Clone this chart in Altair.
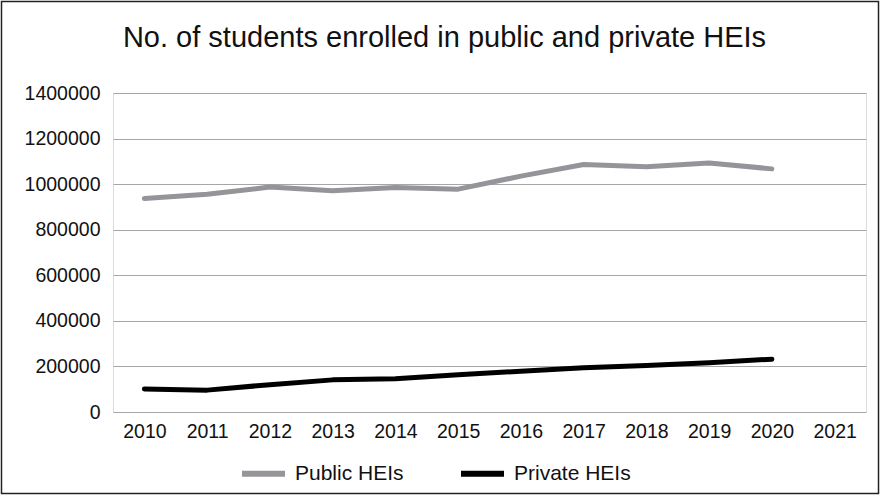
import altair as alt
import pandas as pd

years = ["2010", "2011", "2012", "2013", "2014", "2015", "2016", "2017", "2018", "2019", "2020", "2021"]
data_years = years[:11]
public_heis = [937000, 956000, 987000, 971000, 985000, 978000, 1035000, 1086000, 1076000, 1093000, 1067000]
private_heis = [101000, 96000, 120000, 141000, 146000, 163000, 179000, 194000, 204000, 216000, 232000]
series = ["Public HEIs", "Private HEIs"]
colors = ["#939598", "#000000"]
y_ticks = [0, 200000, 400000, 600000, 800000, 1000000, 1200000, 1400000]

rows = []
for y, v in zip(data_years, public_heis):
    rows.append({"year": y, "value": v, "series": series[0]})
for y, v in zip(data_years, private_heis):
    rows.append({"year": y, "value": v, "series": series[1]})
df = pd.DataFrame(rows)

FONT = "Liberation Sans"

lines = alt.Chart(df).mark_line(strokeWidth=5, strokeCap="round", strokeJoin="round").encode(
    x=alt.X("year:O", scale=alt.Scale(domain=years, type="point", padding=0.5),
            axis=alt.Axis(title=None, labelAngle=0, ticks=False, domain=False, grid=False,
                          labelFontSize=19.5, labelPadding=10, labelColor="#111111", labelFont=FONT)),
    y=alt.Y("value:Q", scale=alt.Scale(domain=[0, 1400000], nice=False),
            axis=alt.Axis(title=None, values=y_ticks, format="d", ticks=False, domain=False,
                          grid=True, gridColor="#a6a6a6", gridWidth=1,
                          labelFontSize=19.5, labelPadding=13, labelColor="#111111", labelFont=FONT)),
    color=alt.Color("series:N", scale=alt.Scale(domain=series, range=colors),
                    legend=alt.Legend(title=None, orient="none", direction="horizontal",
                                      legendX=126, legendY=356,
                                      symbolType="stroke", symbolSize=1849, symbolStrokeWidth=6,
                                      labelFontSize=21, labelFont=FONT, labelColor="#111111",
                                      labelOffset=7, columnPadding=45)),
)

frame = alt.Chart(pd.DataFrame({"a": [0]})).mark_rect(
    fill=None, stroke="#222222", strokeWidth=1.5
).encode(
    x=alt.value(-111.5), x2=alt.value(765.5), y=alt.value(-91.5), y2=alt.value(400.5)
)

chart = alt.layer(frame, lines).properties(
    width=753, height=319,
    title=alt.Title("No. of students enrolled in public and private HEIs", fontSize=29,
                    font=FONT, fontWeight="normal", color="#111111", anchor="middle",
                    baseline="alphabetic", offset=0, dx=-45, dy=75),
    autosize=alt.AutoSizeParams(type="none"),
    padding={"left": 113, "top": 93, "right": 14, "bottom": 83},
).configure_view(stroke=None).configure(background="white")

chart.save("out.html", embed_options={"renderer": "svg", "actions": False})
